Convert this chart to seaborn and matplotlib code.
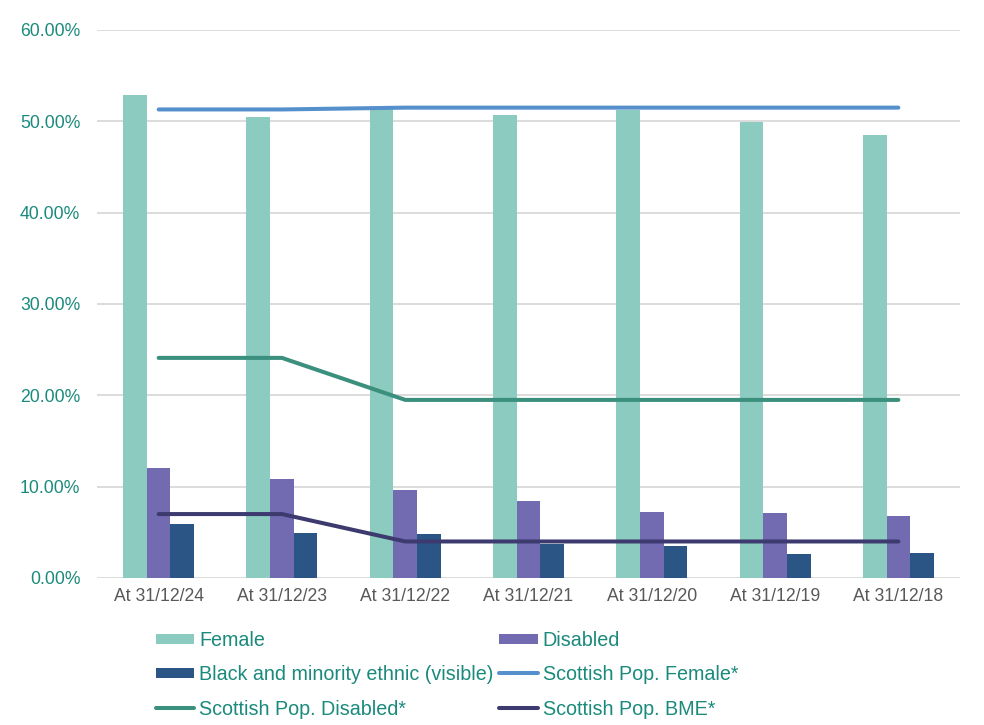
import matplotlib
matplotlib.use("Agg")
import matplotlib.pyplot as plt
from matplotlib.lines import Line2D
from matplotlib.ticker import FuncFormatter, MultipleLocator
import seaborn as sns
import pandas as pd

categories = ["At 31/12/24", "At 31/12/23", "At 31/12/22", "At 31/12/21",
              "At 31/12/20", "At 31/12/19", "At 31/12/18"]
female = [52.9, 50.5, 51.3, 50.7, 51.2, 49.9, 48.5]
disabled = [12.0, 10.8, 9.6, 8.4, 7.2, 7.1, 6.8]
bme = [5.9, 4.9, 4.8, 3.7, 3.5, 2.6, 2.7]
scot_female = [51.3, 51.3, 51.5, 51.5, 51.5, 51.5, 51.5]
scot_disabled = [24.1, 24.1, 19.5, 19.5, 19.5, 19.5, 19.5]
scot_bme = [7.0, 7.0, 4.0, 4.0, 4.0, 4.0, 4.0]

bar_names = ["Female", "Disabled", "Black and minority ethnic (visible)"]
bar_colors = ["#8ccbbf", "#736bb1", "#2a5585"]
line_names = ["Scottish Pop. Female*", "Scottish Pop. Disabled*", "Scottish Pop. BME*"]
line_colors = ["#5590cc", "#3a8f7d", "#3c3a6e"]

df = pd.DataFrame({
    "cat": categories * 3,
    "val": female + disabled + bme,
    "series": [bar_names[0]] * 7 + [bar_names[1]] * 7 + [bar_names[2]] * 7,
})

sns.set_theme(style="white")
plt.rcParams["font.family"] = ["Liberation Sans", "DejaVu Sans"]

teal = "#1a8a7c"
fig = plt.figure(figsize=(9.84, 7.25), dpi=100)
ax = fig.add_axes([97 / 984, 1 - 578 / 725, 863 / 984, 548 / 725])

sns.barplot(data=df, x="cat", y="val", hue="series", order=categories,
            hue_order=bar_names, palette=bar_colors, width=0.575,
            saturation=1, ax=ax, legend=False, errorbar=None, linewidth=0)

xs = list(range(len(categories)))
for vals, c in zip([scot_female, scot_disabled, scot_bme], line_colors):
    ax.plot(xs, vals, color=c, lw=2.9, solid_capstyle="round",
            solid_joinstyle="round", zorder=4)

ax.set_xlim(-0.5, len(categories) - 0.5)
ax.set_ylim(0, 60)
ax.yaxis.set_major_locator(MultipleLocator(10))
ax.yaxis.set_major_formatter(FuncFormatter(lambda v, p: f"{v:.2f}%"))
ax.grid(axis="y", color="#d9d9d9", lw=1.3)
ax.set_axisbelow(True)
for s in ax.spines.values():
    s.set_visible(False)
ax.set_xlabel("")
ax.set_ylabel("")
ax.tick_params(axis="y", length=0, pad=12, labelsize=12.7, labelcolor=teal)
ax.tick_params(axis="x", length=0, pad=7, labelsize=12.7, labelcolor="#595959")

h_f = Line2D([], [], color=bar_colors[0], lw=7.2, solid_capstyle="butt")
h_d = Line2D([], [], color=bar_colors[1], lw=7.2, solid_capstyle="butt")
h_b = Line2D([], [], color=bar_colors[2], lw=7.2, solid_capstyle="butt")
h_sf = Line2D([], [], color=line_colors[0], lw=2.9, solid_capstyle="round")
h_sd = Line2D([], [], color=line_colors[1], lw=2.9, solid_capstyle="round")
h_sb = Line2D([], [], color=line_colors[2], lw=2.9, solid_capstyle="round")
handles = [h_f, h_b, h_sd, h_d, h_sf, h_sb]
labels = [bar_names[0], bar_names[2], line_names[1],
          bar_names[1], line_names[0], line_names[2]]
leg = fig.legend(handles, labels, ncol=2, loc="upper left",
                 bbox_to_anchor=(156 / 984, 1 - 631 / 725), frameon=False,
                 fontsize=14.2, handlelength=1.93, handletextpad=0.26,
                 columnspacing=0.3, labelspacing=0.78, borderpad=0,
                 borderaxespad=0)
for t in leg.get_texts():
    t.set_color(teal)

fig.savefig("out.png", dpi=100)
